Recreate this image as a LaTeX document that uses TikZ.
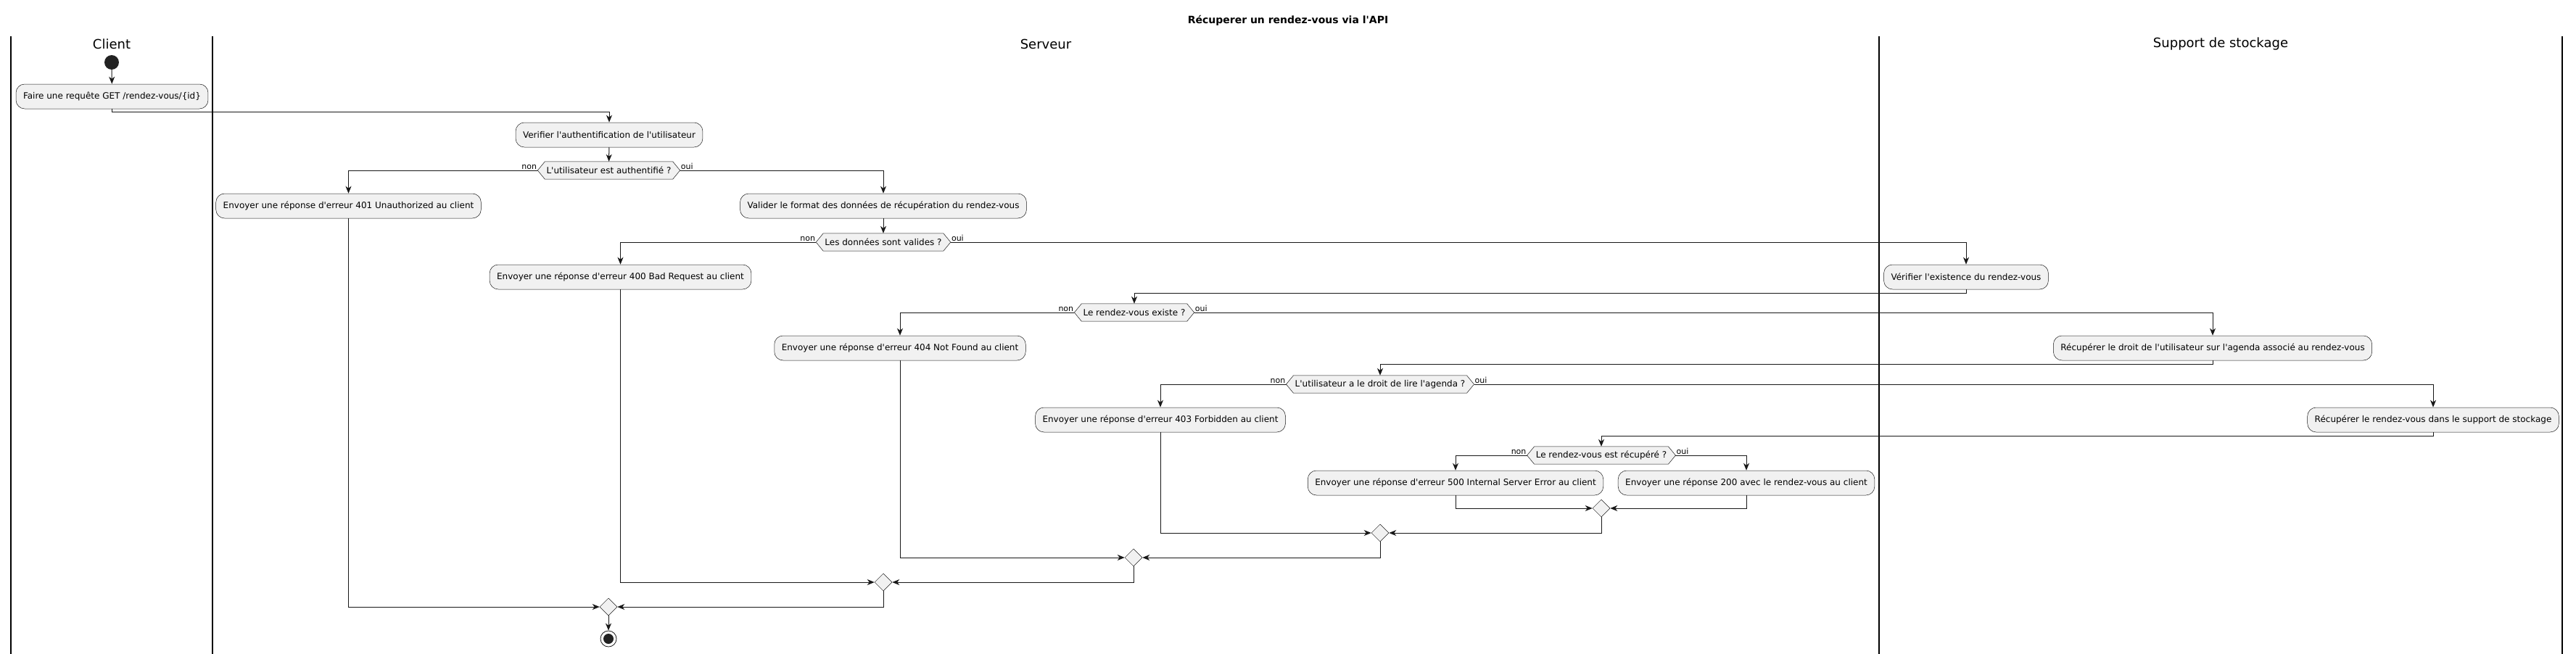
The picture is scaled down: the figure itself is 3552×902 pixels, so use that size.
\documentclass[tikz,border=0pt]{standalone}
\usepackage{fontspec}
\setmainfont{DejaVu Sans}
\usetikzlibrary{arrows.meta,shapes.geometric,backgrounds,calc}
\definecolor{boxfill}{HTML}{F1F1F1}
\definecolor{lineC}{HTML}{181818}
\definecolor{dotC}{HTML}{222222}
\newcommand{\q}{\textquotesingle}
\begin{document}
\begin{tikzpicture}[x=1pt,y=-1pt,
  act/.style={draw=lineC, fill=boxfill, rounded corners=12pt, minimum height=34pt, inner xsep=10pt, inner ysep=0pt, font=\fontsize{12}{14}\selectfont, line width=0.5pt},
  dec/.style={minimum height=24pt, inner xsep=2pt, inner ysep=0pt, font=\fontsize{12}{14}\selectfont},
  hex/.style={draw=lineC, fill=boxfill, line width=0.5pt},
  mrg/.style={diamond, draw=lineC, fill=boxfill, minimum width=24pt, minimum height=24pt, inner sep=0pt, line width=0.5pt},
  flow/.style={draw=lineC, line width=1pt, -{Stealth[length=10pt,width=8pt,inset=3pt]}},
  lbl/.style={font=\fontsize{11}{12}\selectfont, inner sep=1pt},
  lane/.style={draw=black, line width=1.2pt},
  lanetitle/.style={font=\fontsize{18}{20}\selectfont},
]
\useasboundingbox (0,0) rectangle (3552,902);

% title and lanes
\node[font=\bfseries\fontsize{14}{16}\selectfont] (title) at (1776,28) {Récuperer un rendez-vous via l\q API};
\draw[lane] (15,50) -- (15,902);
\draw[lane] (293,50) -- (293,902);
\draw[lane] (2591,50) -- (2591,902);
\draw[lane] (3533,50) -- (3533,902);
\node[lanetitle] (tclient) at (154,61) {Client};
\node[lanetitle] (tserveur) at (1442,61) {Serveur};
\node[lanetitle] (tsupport) at (3062,61) {Support de stockage};

% start
\node[circle, fill=dotC, minimum size=20pt, inner sep=0pt] (start) at (154,86) {};

% actions
\node[act] (faire) at (154.5,133) {Faire une requête GET /rendez-vous/\{id\}};
\node[act] (verif) at (840,186) {Verifier l\q authentification de l\q utilisateur};
\node[dec] (d1) at (839.5,235) {L\q utilisateur est authentifié ?};
\node[act] (e401) at (480.5,284) {Envoyer une réponse d\q erreur 401 Unauthorized au client};
\node[act] (valider) at (1218,284) {Valider le format des données de récupération du rendez-vous};
\node[dec] (d2) at (1218,334) {Les données sont valides ?};
\node[act] (e400) at (855.5,382) {Envoyer une réponse d\q erreur 400 Bad Request au client};
\node[act] (vexist) at (2711,382) {Vérifier l\q existence du rendez-vous};
\node[dec] (d3) at (1564,431) {Le rendez-vous existe ?};
\node[act] (e404) at (1241,480) {Envoyer une réponse d\q erreur 404 Not Found au client};
\node[act] (rdroit) at (3051,480) {Récupérer le droit de l\q utilisateur sur l\q agenda associé au rendez-vous};
\node[dec] (d4) at (1903,530) {L\q utilisateur a le droit de lire l\q agenda ?};
\node[act] (e403) at (1600,579) {Envoyer une réponse d\q erreur 403 Forbidden au client};
\node[act] (rrdv) at (3355,579) {Récupérer le rendez-vous dans le support de stockage};
\node[dec] (d5) at (2208,628) {Le rendez-vous est récupéré ?};
\node[act] (e500) at (2007,666) {Envoyer une réponse d\q erreur 500 Internal Server Error au client};
\node[act] (e200) at (2408,666) {Envoyer une réponse 200 avec le rendez-vous au client};

% merges
\node[mrg] (ma) at (2208,701) {};
\node[mrg] (mb) at (1903,735) {};
\node[mrg] (mc) at (1563,769) {};
\node[mrg] (md) at (1218,803) {};
\node[mrg] (me) at (839,837) {};

% end
\node[circle, draw=lineC, fill=white, line width=0.8pt, minimum size=22pt, inner sep=0pt] (end) at (839,881) {};
\fill[dotC] (end.center) circle (7pt);

% hexagon points
\foreach \n in {d1,d2,d3,d4,d5}{
  \coordinate (\n w) at ($(\n.west)+(-10,0)$);
  \coordinate (\n e) at ($(\n.east)+(10,0)$);
}
\begin{scope}[on background layer]
\foreach \n in {d1,d2,d3,d4,d5}{
  \draw[hex] (\n w) -- (\n.north west) -- (\n.north east) -- (\n e) -- (\n.south east) -- (\n.south west) -- cycle;
}
\end{scope}

% labels
\foreach \n in {d1,d2,d3,d4,d5}{
  \node[lbl, anchor=south east] at (\n w) {non};
  \node[lbl, anchor=south west] at (\n e) {oui};
}

% flows
\draw[flow] (start) -- (faire);
\draw[flow] (faire.south) -- ++(0,4) -| (verif.north);
\draw[flow] (verif) -- (d1);
\draw[flow] (d1w) -| (e401.north);
\draw[flow] (d1e) -| (valider.north);
\draw[flow] (valider) -- (d2);
\draw[flow] (d2w) -| (e400.north);
\draw[flow] (d2e) -| (vexist.north);
\draw[flow] (vexist.south) -- ++(0,5) -| (d3.north);
\draw[flow] (d3w) -| (e404.north);
\draw[flow] (d3e) -| (rdroit.north);
\draw[flow] (rdroit.south) -- ++(0,5) -| (d4.north);
\draw[flow] (d4w) -| (e403.north);
\draw[flow] (d4e) -| (rrdv.north);
\draw[flow] (rrdv.south) -- ++(0,5) -| (d5.north);
\draw[flow] (d5w) -| (e500.north);
\draw[flow] (d5e) -| (e200.north);

\draw[flow] (e500.south) |- (ma.west);
\draw[flow] (e200.south) |- (ma.east);
\draw[flow] (ma.south) |- (mb.east);
\draw[flow] (e403.south) |- (mb.west);
\draw[flow] (mb.south) |- (mc.east);
\draw[flow] (e404.south) |- (mc.west);
\draw[flow] (mc.south) |- (md.east);
\draw[flow] (e400.south) |- (md.west);
\draw[flow] (md.south) |- (me.east);
\draw[flow] (e401.south) |- (me.west);
\draw[flow] (me) -- (end);
\end{tikzpicture}
\end{document}
